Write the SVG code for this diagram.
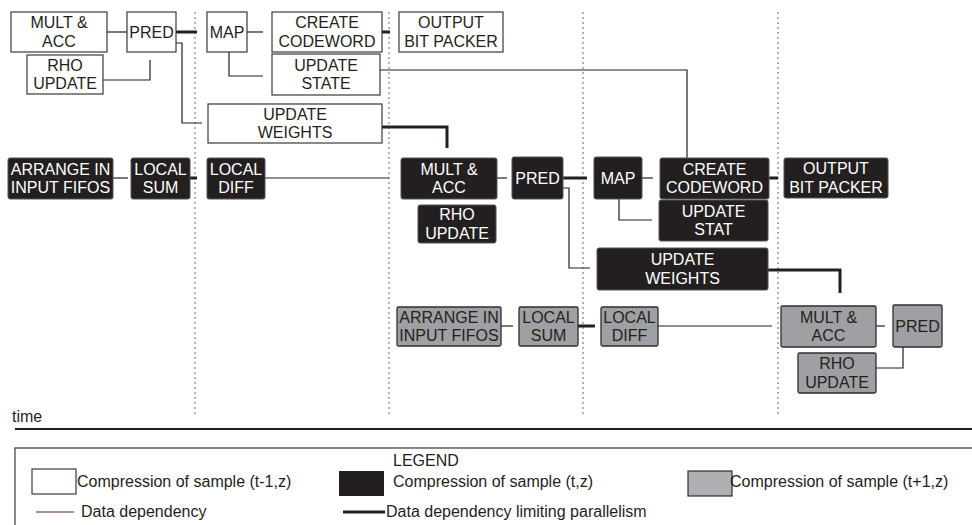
<svg xmlns="http://www.w3.org/2000/svg" width="972" height="525" viewBox="0 0 972 525">
  <style>
    text { font-family: "Liberation Sans", Arial, sans-serif; font-size: 16px; }
    .lbl { text-anchor: middle; }
    .prev rect { fill: #ffffff; stroke: #3a3a3a; stroke-width: 1.2; }
    .prev text { fill: #231f20; }
    .cur rect { fill: #231f20; stroke: #555555; stroke-width: 1; }
    .cur text { fill: #ffffff; }
    .next rect { fill: #9fa0a3; stroke: #2e2e2e; stroke-width: 1.3; }
    .next text { fill: #231f20; }
    .thin { fill: none; stroke: #231f20; stroke-width: 1.2; }
    .thick { fill: none; stroke: #231f20; stroke-width: 3; }
    .cycle { stroke: #b3b3b3; stroke-width: 2; stroke-dasharray: 2 3; }
  </style>

  <!-- pipeline cycle boundaries -->
  <g id="cycle-boundaries">
    <line class="cycle" x1="195" y1="12" x2="195" y2="415"/>
    <line class="cycle" x1="389" y1="12" x2="389" y2="415"/>
    <line class="cycle" x1="583" y1="12" x2="583" y2="415"/>
    <line class="cycle" x1="778" y1="12" x2="778" y2="415"/>
  </g>

  <!-- connectors -->
  <g id="connectors">
    <path class="thin" d="M107,32 H127"/>
    <path class="thin" d="M103,80 H150 V60"/>
    <path class="thin" d="M176,43 H182 V123 H202"/>
    <path class="thin" d="M247,32 H263"/>
    <path class="thin" d="M229,52 V76 H263"/>
    <path class="thin" d="M380,70 H687 V158"/>
    <path class="thin" d="M113,178 H128"/>
    <path class="thin" d="M265,178 H389"/>
    <path class="thin" d="M497,178 H507"/>
    <path class="thin" d="M563,188 H569 V268 H590"/>
    <path class="thin" d="M642,178 H653"/>
    <path class="thin" d="M619,199 V220 H652"/>
    <path class="thin" d="M501,326 H513"/>
    <path class="thin" d="M658,326 H772"/>
    <path class="thin" d="M876,326 H885"/>
    <path class="thin" d="M876,368 H903 V347"/>

    <path class="thick" d="M176,32 H197"/>
    <path class="thick" d="M382,32 H390"/>
    <path class="thick" d="M382,127 H447 V148"/>
    <path class="thick" d="M190,178 H197"/>
    <path class="thick" d="M563,178 H587"/>
    <path class="thick" d="M769,178 H778"/>
    <path class="thick" d="M768,270 H840 V293"/>
    <path class="thick" d="M578,326 H595"/>
  </g>

  <!-- sample (t-1,z) -->
  <g class="prev">
    <g id="mult-acc-1"><rect x="11" y="12" width="96" height="40"/><text class="lbl" x="59" y="28.3">MULT &amp;</text><text class="lbl" x="59" y="46.5">ACC</text></g>
    <g id="pred-1"><rect x="127" y="12" width="49" height="40"/><text class="lbl" x="151.5" y="37.5">PRED</text></g>
    <g id="rho-update-1"><rect x="27" y="55" width="76" height="39"/><text class="lbl" x="65" y="70.8">RHO</text><text class="lbl" x="65" y="89">UPDATE</text></g>
    <g id="map-1"><rect x="207" y="12" width="40" height="40"/><text class="lbl" x="227" y="37.5">MAP</text></g>
    <g id="create-codeword-1"><rect x="272" y="12" width="110" height="40"/><text class="lbl" x="327" y="28.3">CREATE</text><text class="lbl" x="327" y="46.5">CODEWORD</text></g>
    <g id="output-bit-packer-1"><rect x="399" y="12" width="104" height="40"/><text class="lbl" x="451" y="28.3">OUTPUT</text><text class="lbl" x="451" y="46.5">BIT PACKER</text></g>
    <g id="update-state-1"><rect x="272" y="54" width="108" height="41"/><text class="lbl" x="326" y="70.8">UPDATE</text><text class="lbl" x="326" y="89">STATE</text></g>
    <g id="update-weights-1"><rect x="208" y="104" width="174" height="39"/><text class="lbl" x="295" y="119.8">UPDATE</text><text class="lbl" x="295" y="138">WEIGHTS</text></g>
  </g>

  <!-- sample (t,z) -->
  <g class="cur">
    <g id="arrange-fifos-2"><rect x="8" y="158" width="105" height="41" rx="2"/><text class="lbl" x="60.5" y="174.8">ARRANGE IN</text><text class="lbl" x="60.5" y="193">INPUT FIFOS</text></g>
    <g id="local-sum-2"><rect x="131" y="158" width="59" height="41" rx="2"/><text class="lbl" x="160.5" y="174.8">LOCAL</text><text class="lbl" x="160.5" y="193">SUM</text></g>
    <g id="local-diff-2"><rect x="207" y="158" width="58" height="41" rx="2"/><text class="lbl" x="236" y="174.8">LOCAL</text><text class="lbl" x="236" y="193">DIFF</text></g>
    <g id="mult-acc-2"><rect x="401" y="158" width="96" height="41" rx="2"/><text class="lbl" x="449" y="174.8">MULT &amp;</text><text class="lbl" x="449" y="193">ACC</text></g>
    <g id="pred-2"><rect x="512" y="157" width="51" height="42" rx="2"/><text class="lbl" x="537.5" y="183.5">PRED</text></g>
    <g id="rho-update-2"><rect x="418" y="205" width="78" height="38" rx="2"/><text class="lbl" x="457" y="220.3">RHO</text><text class="lbl" x="457" y="238.5">UPDATE</text></g>
    <g id="map-2"><rect x="594" y="157" width="48" height="42" rx="2"/><text class="lbl" x="618" y="183.5">MAP</text></g>
    <g id="create-codeword-2"><rect x="660" y="158" width="109" height="41" rx="2"/><text class="lbl" x="714.5" y="174.8">CREATE</text><text class="lbl" x="714.5" y="193">CODEWORD</text></g>
    <g id="update-stat-2"><rect x="659" y="200" width="109" height="41" rx="2"/><text class="lbl" x="713.5" y="216.8">UPDATE</text><text class="lbl" x="713.5" y="235">STAT</text></g>
    <g id="output-bit-packer-2"><rect x="784" y="158" width="104" height="40" rx="2"/><text class="lbl" x="836" y="174.3">OUTPUT</text><text class="lbl" x="836" y="192.5">BIT PACKER</text></g>
    <g id="update-weights-2"><rect x="597" y="248" width="171" height="42" rx="2"/><text class="lbl" x="682.5" y="265.3">UPDATE</text><text class="lbl" x="682.5" y="283.5">WEIGHTS</text></g>
  </g>

  <!-- sample (t+1,z) -->
  <g class="next">
    <g id="arrange-fifos-3"><rect x="397" y="307" width="104" height="39" rx="1.5"/><text class="lbl" x="449" y="322.8">ARRANGE IN</text><text class="lbl" x="449" y="341">INPUT FIFOS</text></g>
    <g id="local-sum-3"><rect x="519" y="307" width="59" height="39" rx="1.5"/><text class="lbl" x="548.5" y="322.8">LOCAL</text><text class="lbl" x="548.5" y="341">SUM</text></g>
    <g id="local-diff-3"><rect x="601" y="307" width="57" height="39" rx="1.5"/><text class="lbl" x="629.5" y="322.8">LOCAL</text><text class="lbl" x="629.5" y="341">DIFF</text></g>
    <g id="mult-acc-3"><rect x="781" y="306" width="95" height="41" rx="1.5"/><text class="lbl" x="828.5" y="322.8">MULT &amp;</text><text class="lbl" x="828.5" y="341">ACC</text></g>
    <g id="pred-3"><rect x="893" y="305" width="49" height="42" rx="1.5"/><text class="lbl" x="917.5" y="331.5">PRED</text></g>
    <g id="rho-update-3"><rect x="798" y="353" width="78" height="40" rx="1.5"/><text class="lbl" x="837" y="369.3">RHO</text><text class="lbl" x="837" y="387.5">UPDATE</text></g>
  </g>

  <!-- time axis -->
  <g id="time-axis">
    <text x="12" y="422" fill="#231f20">time</text>
    <line x1="15" y1="429" x2="972" y2="429" stroke="#231f20" stroke-width="2"/>
  </g>

  <!-- legend -->
  <g id="legend">
    <rect x="15" y="448" width="975" height="100" fill="none" stroke="#3a3a3a" stroke-width="1.2"/>
    <text x="393" y="466" fill="#231f20">LEGEND</text>
    <rect x="32" y="469" width="44" height="25" fill="#ffffff" stroke="#3a3a3a" stroke-width="1.2"/>
    <text x="77" y="487" fill="#231f20">Compression of sample (t-1,z)</text>
    <rect x="339" y="471" width="45" height="25" fill="#231f20"/>
    <text x="393" y="487" fill="#231f20">Compression of sample (t,z)</text>
    <rect x="688" y="471" width="44" height="25" fill="#afb0b3" stroke="#2e2e2e" stroke-width="1.2"/>
    <text x="730" y="487" fill="#231f20">Compression of sample (t+1,z)</text>
    <line x1="36" y1="512" x2="74" y2="512" stroke="#5a2020" stroke-width="1.2"/>
    <text x="81" y="517" fill="#231f20">Data dependency</text>
    <line x1="343" y1="512" x2="385" y2="512" stroke="#231f20" stroke-width="3"/>
    <text x="386" y="517" fill="#231f20">Data dependency limiting parallelism</text>
  </g>
</svg>
